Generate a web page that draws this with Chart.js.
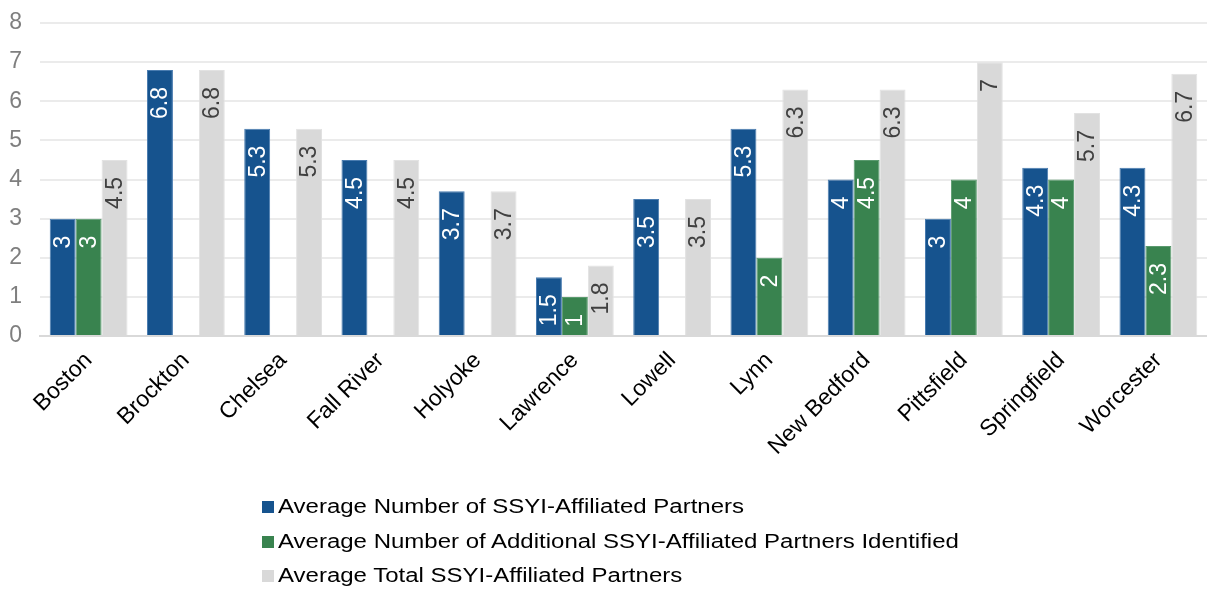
<!DOCTYPE html>
<html>
<head>
<meta charset="utf-8">
<script src="https://cdn.jsdelivr.net/npm/chart.js@4.4.1/dist/chart.umd.min.js"></script>
<style>
    body { margin: 0; background: #fff; }
    #wrap { position: relative; width: 1207px; height: 589px; }
    #leyenda { position: absolute; left: 262px; top: 489px; font-family: "Liberation Sans", Arial, sans-serif; font-size: 20px; color: #000; }
    #leyenda div { height: 34.5px; line-height: 34.5px; white-space: nowrap; }
    #leyenda span.caja { display: inline-block; width: 12px; height: 12px; margin-right: 4px; vertical-align: 0px; }
    #leyenda span.txt { display: inline-block; transform: scaleX(1.2); transform-origin: left center; }
</style>
</head>
<body>
<div id="wrap">
    <canvas id="grafica" width="1207" height="589"></canvas>
    <div id="leyenda"></div>
</div>
<script>
const ciudades = ["Boston", "Brockton", "Chelsea", "Fall River", "Holyoke", "Lawrence",
                  "Lowell", "Lynn", "New Bedford", "Pittsfield", "Springfield", "Worcester"];
const promedioSocios  = [3, 6.8, 5.3, 4.5, 3.7, 1.5, 3.5, 5.3, 4, 3, 4.3, 4.3];
const sociosAdicional = [3, null, null, null, null, 1, null, 2, 4.5, 4, 4, 2.3];
const totalSocios     = [4.5, 6.8, 5.3, 4.5, 3.7, 1.8, 3.5, 6.3, 6.3, 7, 5.7, 6.7];
const nombresSeries = [
    "Average Number of SSYI-Affiliated Partners",
    "Average Number of Additional SSYI-Affiliated Partners Identified",
    "Average Total SSYI-Affiliated Partners"
];
const ticksY = [0, 1, 2, 3, 4, 5, 6, 7, 8];

const colores   = ["#16538e", "#39834f", "#d9d9d9"];
const bordes    = ["#4a7cb0", "#5a9a6e", "#e2e2e2"];
const colorTexto = ["#ffffff", "#ffffff", "#404040"];
const fuente = "'Liberation Sans', Arial, sans-serif";

// etiquetas giradas dentro de cada barra, pegadas al extremo superior
const etiquetasBarras = {
    id: "etiquetasBarras",
    afterDatasetsDraw(chart) {
        const ctx = chart.ctx;
        chart.data.datasets.forEach((ds, i) => {
            const meta = chart.getDatasetMeta(i);
            meta.data.forEach((barra, j) => {
                const v = ds.data[j];
                if (v === null || v === undefined) return;
                ctx.save();
                ctx.translate(barra.x, barra.y + 17);
                ctx.rotate(-Math.PI / 2);
                ctx.textAlign = "right";
                ctx.textBaseline = "middle";
                ctx.fillStyle = colorTexto[i];
                ctx.font = "23px " + fuente;
                ctx.fillText(String(v), 0, 1);
                ctx.restore();
            });
        });
    }
};

const ctx = document.getElementById("grafica").getContext("2d");

new Chart(ctx, {
    type: "bar",
    data: {
        labels: ciudades,
        datasets: [promedioSocios, sociosAdicional, totalSocios].map((serie, i) => ({
            label: nombresSeries[i],
            data: serie,
            backgroundColor: colores[i],
            borderColor: bordes[i],
            borderWidth: 1,
            categoryPercentage: 0.8,
            barPercentage: 1.0
        }))
    },
    options: {
        responsive: false,
        animation: false,
        layout: { padding: { top: 23, right: 0, left: 0, bottom: 0 } },
        plugins: {
            legend: { display: false },
            tooltip: { enabled: false }
        },
        scales: {
            y: {
                min: 0,
                max: 8,
                afterBuildTicks: s => { s.ticks = ticksY.map(v => ({ value: v })); },
                afterFit: s => { s.width = 40; s.paddingTop = 0; s.paddingBottom = 0; },
                ticks: {
                    color: "#7f7f7f",
                    font: { family: fuente, size: 23 },
                    padding: 18
                },
                grid: {
                    color: "#ebebeb",
                    lineWidth: 2,
                    drawTicks: false
                },
                border: { display: false }
            },
            x: {
                afterFit: s => { s.height = 253; },
                ticks: {
                    color: "#000",
                    font: { family: fuente, size: 23 },
                    minRotation: 45,
                    maxRotation: 45,
                    padding: 11
                },
                grid: { display: false, drawTicks: false },
                border: { color: "#d9d9d9", width: 2 }
            }
        }
    },
    plugins: [etiquetasBarras]
});

const leyenda = document.getElementById("leyenda");
nombresSeries.forEach((nombre, i) => {
    const fila = document.createElement("div");
    const caja = document.createElement("span");
    caja.className = "caja";
    caja.style.background = colores[i];
    const txt = document.createElement("span");
    txt.className = "txt";
    txt.textContent = nombre;
    fila.appendChild(caja);
    fila.appendChild(txt);
    leyenda.appendChild(fila);
});
</script>
</body>
</html>
